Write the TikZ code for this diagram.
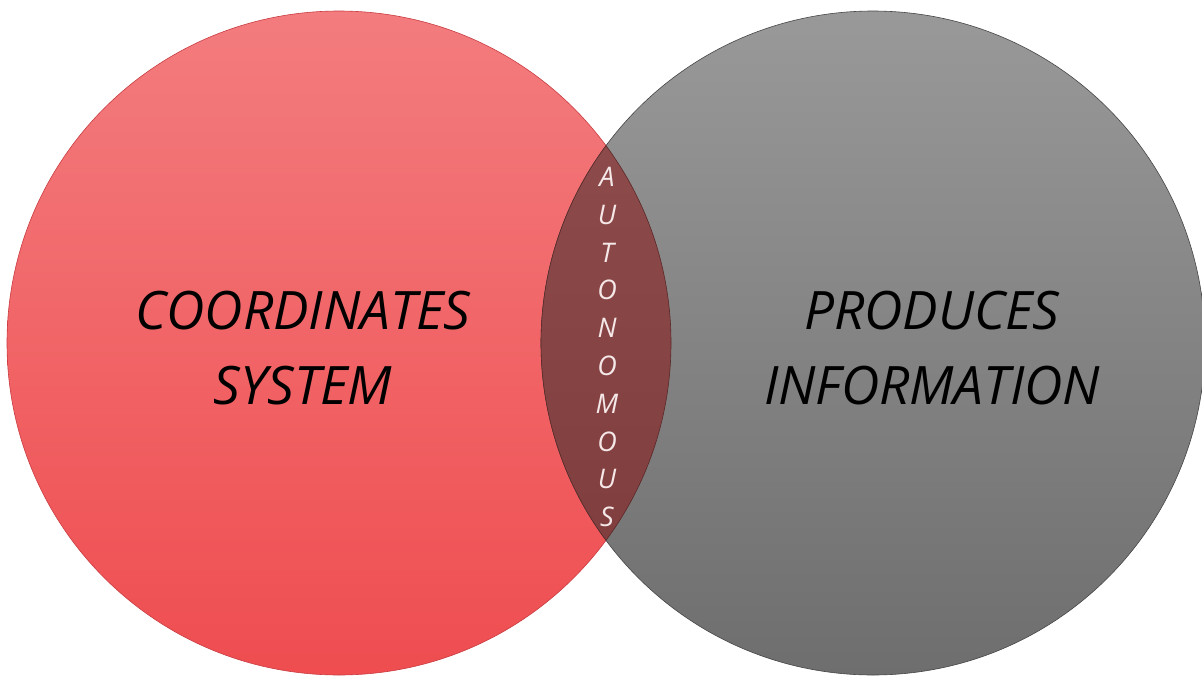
\documentclass[tikz,border=0pt]{standalone}
\usepackage{fontspec}
\setmainfont{Open Sans}
\definecolor{redtop}{RGB}{243,124,126}
\definecolor{redbot}{RGB}{239,77,80}
\definecolor{redline}{RGB}{200,60,65}
\definecolor{graytop}{RGB}{153,153,153}
\definecolor{graybot}{RGB}{110,110,110}
\definecolor{grayline}{RGB}{70,70,70}
\definecolor{lenstop}{RGB}{145,78,78}
\definecolor{lensbot}{RGB}{125,58,59}
\definecolor{lensline}{RGB}{90,40,40}
\definecolor{lenstextcol}{RGB}{245,232,232}
\begin{document}
\begin{tikzpicture}[x=1pt,y=-1pt,
  bigtext/.style={font=\fontsize{53}{75}\selectfont\itshape, text=black, align=center},
  lenstext/.style={font=\fontsize{27}{37.8}\selectfont\itshape, text=lenstextcol, align=center}]
\useasboundingbox (0,0) rectangle (1202,675);
\def\rr{332}
% red circle
\shade[top color=redtop, bottom color=redbot] (339,343) circle (\rr);
\draw[line width=0.6pt, redline] (339,343) circle (\rr);
% gray circle
\shade[top color=graytop, bottom color=graybot] (873,343) circle (\rr);
\draw[line width=0.6pt, grayline] (873,343) circle (\rr);
% lens
\begin{scope}
  \clip (339,343) circle (\rr);
  \shade[top color=lenstop, bottom color=lensbot] (873,343) circle (\rr);
  \draw[line width=0.6pt, lensline] (873,343) circle (\rr);
\end{scope}
\begin{scope}
  \clip (873,343) circle (\rr);
  \draw[line width=0.6pt, lensline] (339,343) circle (\rr);
\end{scope}
\node[bigtext] (left) at (303,348) {COORDINATES\\SYSTEM};
\node[bigtext] (right) at (932,348) {PRODUCES\\INFORMATION};
\node[lenstext] (mid) at (607,347) {A\\U\\T\\O\\N\\O\\M\\O\\U\\S};
\end{tikzpicture}
\end{document}
